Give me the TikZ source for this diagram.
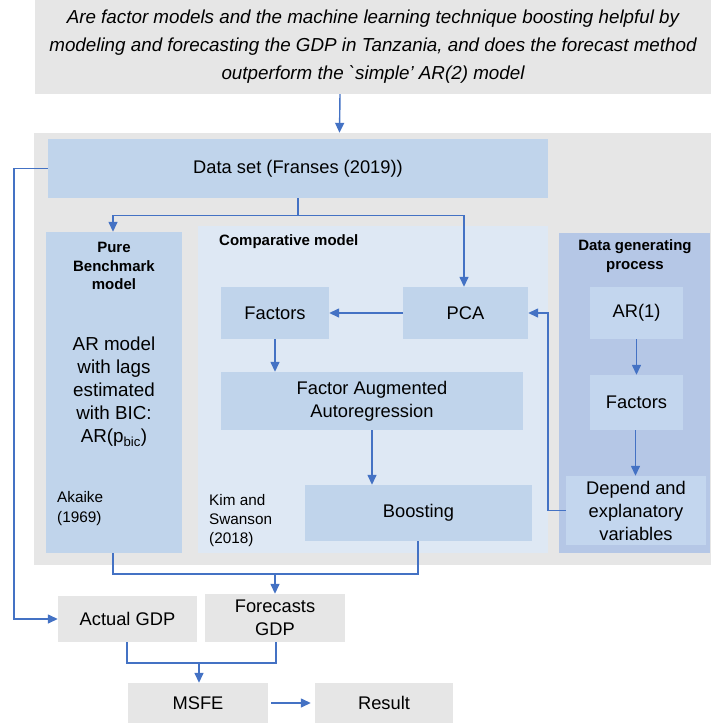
\documentclass[tikz,border=0pt]{standalone}
\usepackage{fontspec}
\setmainfont{Liberation Sans}
\usetikzlibrary{arrows.meta,calc}
\definecolor{greyb}{HTML}{E6E6E6}
\definecolor{blueb}{HTML}{C0D4EB}
\definecolor{compb}{HTML}{DEE8F4}
\definecolor{dgpb}{HTML}{B5C7E6}
\definecolor{dgpbox}{HTML}{C3D6EE}
\definecolor{arrc}{HTML}{4472C4}
\begin{document}
\begin{tikzpicture}[x=1pt,y=-1pt,
  box/.style={inner sep=0pt, align=center, font=\fontsize{18.3}{23}\selectfont},
  gbox/.style={box, fill=greyb},
  bbox/.style={box, fill=blueb},
  title/.style={inner sep=0pt, align=center, font=\fontsize{15}{18.5}\selectfont\bfseries},
  note/.style={inner sep=0pt, align=left, anchor=north west, font=\fontsize{15.3}{20}\selectfont},
  arr/.style={draw=arrc, line width=1.4pt, -{Triangle[length=10pt,width=9pt]}},
  ln/.style={draw=arrc, line width=1.4pt}
]
\useasboundingbox (0,0) rectangle (711,724);
% question
\node[gbox, minimum width=676pt, minimum height=94pt, font=\fontsize{18.8}{28}\selectfont\itshape] (q) at (373,47)
 {Are factor models and the machine learning technique boosting helpful by\\
  modeling and forecasting the GDP in Tanzania, and does the forecast method\\
  outperform the \textasciigrave simple' AR(2) model};
% main panel
\node[fill=greyb, inner sep=0pt, minimum width=677pt, minimum height=432pt] (panel) at (372.5,349) {};
% data set
\node[bbox, minimum width=500pt, minimum height=59pt] (data) at (298,168.5) {Data set (Franses (2019))};
% sub panels
\node[fill=blueb, inner sep=0pt, minimum width=136pt, minimum height=321pt] (pure) at (114,392.5) {};
\node[fill=compb, inner sep=0pt, minimum width=350pt, minimum height=327pt] (comp) at (373,389.5) {};
\node[fill=dgpb, inner sep=0pt, minimum width=151pt, minimum height=320pt] (dgp) at (634.5,393) {};
% titles
\node[title] (puret) at (114,266) {Pure\\Benchmark\\model};
\node[title, anchor=west] (compt) at (219,242) {Comparative model};
\node[title] (dgpt) at (635,256) {Data generating\\process};
% pure content
\node[box, font=\fontsize{18.8}{23}\selectfont] (arm) at (114,392) {AR model\\with lags\\estimated\\with BIC:\\AR(p\textsubscript{bic})};
\node[note] (aka) at (57,491) {Akaike\\(1969)};
\node[note, font=\fontsize{15.3}{19}\selectfont] (kim) at (209,494) {Kim and\\Swanson\\(2018)};
% comparative content
\node[bbox, minimum width=108pt, minimum height=52pt] (fac) at (275,313) {Factors};
\node[bbox, minimum width=125pt, minimum height=52pt] (pca) at (465.5,313) {PCA};
\node[bbox, minimum width=302pt, minimum height=58pt] (faa) at (372,401) {Factor Augmented\\Autoregression};
\node[bbox, minimum width=227pt, minimum height=56pt] (boost) at (418.5,513) {Boosting};
% dgp content
\node[box, fill=dgpbox, minimum width=93pt, minimum height=52pt] (ar1) at (636.5,313) {AR(1)};
\node[box, fill=dgpbox, minimum width=93pt, minimum height=55pt] (facb) at (636.5,402.5) {Factors};
\node[box, fill=dgpbox, minimum width=140pt, minimum height=69pt] (dep) at (636,510.5) {Depend and\\explanatory\\variables};
% bottom
\node[gbox, minimum width=139pt, minimum height=46pt] (act) at (127.5,619) {Actual GDP};
\node[gbox, minimum width=140pt, minimum height=48pt] (fore) at (275,618) {Forecasts\\GDP};
\node[gbox, minimum width=140pt, minimum height=40pt] (msfe) at (198,703) {MSFE};
\node[gbox, minimum width=138pt, minimum height=40pt] (res) at (384,703) {Result};
% connectors
\draw[arr] ([xshift=-33pt]q.south) -- ([xshift=-33pt]panel.north);
\draw[arr] (data.west) -- ++(-34,0) |- (act.west);
\coordinate (split) at ($(data.south)+(0,17)$);
\draw[ln] (data.south) -- (split);
\draw[arr] (split) -| ([xshift=-1pt]pure.north);
\draw[arr] (split) -| ([xshift=-1.5pt]pca.north);
\draw[arr] (pca.west) -- (fac.east);
\draw[arr] (fac.south) -- (fac.south |- faa.north);
\draw[arr] (faa.south) -- (faa.south |- boost.north);
\draw[arr] (ar1.south) -- (ar1.south |- facb.north);
\draw[arr] ([xshift=-1pt]facb.south) -- ([xshift=-1pt]facb.south |- dep.north);
\draw[arr] (dep.west) -- ++(-18,0) |- (pca.east);
\coordinate (join) at ($(fore.north)+(0,-20)$);
\draw[ln] ([xshift=-1pt]pure.south) |- (join);
\draw[ln] ([xshift=-0.5pt]boost.south) |- (join);
\draw[arr] (join) -- (fore.north);
\coordinate (join2) at ($(msfe.north)+(0,-20)$);
\draw[ln] ([xshift=-0.5pt]act.south) |- (join2);
\draw[ln] ([xshift=1pt]fore.south) |- (join2);
\draw[arr] ([xshift=1pt]join2) -- ([xshift=1pt]msfe.north);
\draw[arr] ([xshift=3pt]msfe.east) -- ([xshift=-4pt]res.west);
\end{tikzpicture}
\end{document}
